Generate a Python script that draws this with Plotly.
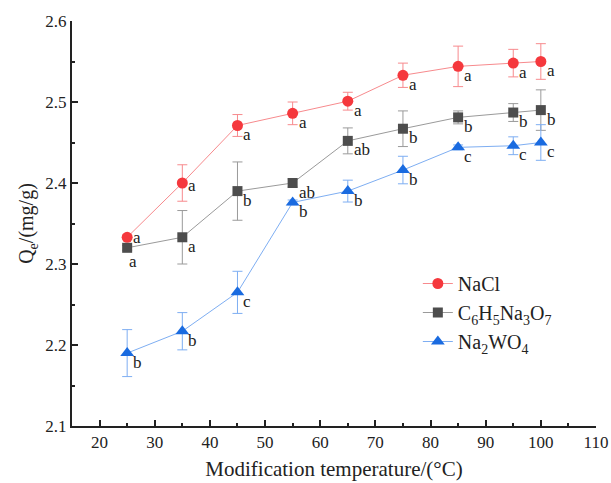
import plotly.graph_objects as go

temps = [25, 35, 45, 55, 65, 75, 85, 95, 100]

nacl = [2.333, 2.400, 2.471, 2.486, 2.501, 2.533, 2.544, 2.548, 2.550]
nacl_err = [0.003, 0.0225, 0.0135, 0.014, 0.011, 0.015, 0.025, 0.017, 0.022]
nacl_lab = ["a", "a", "a", "a", "a", "a", "a", "a", "a"]

citr = [2.320, 2.333, 2.390, 2.400, 2.452, 2.467, 2.481, 2.487, 2.490]
citr_err = [0.003, 0.033, 0.036, 0.005, 0.016, 0.022, 0.008, 0.011, 0.025]
citr_lab = ["a", "a", "b", "ab", "ab", "b", "b", "b", "b"]

tung = [2.190, 2.217, 2.265, 2.376, 2.390, 2.416, 2.444, 2.446, 2.450]
tung_err = [0.029, 0.023, 0.026, 0.003, 0.0135, 0.017, 0.003, 0.011, 0.022]
tung_lab = ["b", "b", "c", "b", "b", "b", "c", "c", "c"]

series = [
    ("NaCl", nacl, nacl_err, nacl_lab, "#F5383D", "#F78A8D", "circle", 11),
    ("C<sub>6</sub>H<sub>5</sub>Na<sub>3</sub>O<sub>7</sub>", citr, citr_err, citr_lab, "#4D4D4D", "#9A9A9A", "square", 10),
    ("Na<sub>2</sub>WO<sub>4</sub>", tung, tung_err, tung_lab, "#1A6BE0", "#7EAEF2", "triangle-up", 12),
]

# label placement tweaks (series index, point index) -> (xshift, yshift)
label_shift = {(0, 0): (4, 0), (0, 1): (4, -2), (1, 0): (0, -14)}

FONT = "Liberation Serif, Times New Roman, serif"

fig = go.Figure()
annotations = []
for si, (name, ys, errs, labs, mc, lc, sym, sz) in enumerate(series):
    fig.add_trace(go.Scatter(
        x=temps, y=ys, name=name, mode="lines+markers",
        line=dict(color=lc, width=1),
        marker=dict(color=mc, symbol=sym, size=sz),
        error_y=dict(type="data", array=errs, visible=True, color=lc, thickness=1, width=5),
    ))
    for pi, (xv, yv, t) in enumerate(zip(temps, ys, labs)):
        xs, ysft = label_shift.get((si, pi), (4, -9))
        annotations.append(dict(
            x=xv, y=yv, text=t, showarrow=False, xanchor="left", yanchor="middle",
            xshift=xs, yshift=ysft, font=dict(family=FONT, size=17, color="#222222"),
        ))

fig.update_layout(
    width=611, height=483,
    margin=dict(l=72, r=15, t=21, b=57),
    plot_bgcolor="white", paper_bgcolor="white",
    font=dict(family=FONT, size=17, color="#222222"),
    annotations=annotations,
    showlegend=True,
    legend=dict(x=0.66, y=0.40, xanchor="left", yanchor="top",
                bgcolor="rgba(0,0,0,0)", font=dict(family=FONT, size=20),
                tracegroupgap=0, itemwidth=30),
    xaxis=dict(
        range=[15, 110], tickvals=[20, 30, 40, 50, 60, 70, 80, 90, 100, 110],
        showgrid=False, zeroline=False, showline=True, linecolor="#222222", linewidth=2,
        ticks="inside", ticklen=6, tickwidth=1.5, tickcolor="#222222",
        minor=dict(ticks="inside", ticklen=3, dtick=5, tick0=15, tickcolor="#222222", tickwidth=1.5),
        tickfont=dict(family=FONT, size=17), automargin=False,
        title=dict(text="Modification temperature/(°C)", font=dict(family=FONT, size=21), standoff=10),
    ),
    yaxis=dict(
        range=[2.1, 2.6], tickvals=[2.1, 2.2, 2.3, 2.4, 2.5, 2.6], tickformat=".1f",
        showgrid=False, zeroline=False, showline=True, linecolor="#222222", linewidth=2,
        ticks="inside", ticklen=6, tickwidth=1.5, tickcolor="#222222",
        minor=dict(ticks="inside", ticklen=3, dtick=0.05, tick0=2.1, tickcolor="#222222", tickwidth=1.5),
        tickfont=dict(family=FONT, size=17), automargin=False,
        title=dict(text="Q<sub>e</sub>/(mg/g)", font=dict(family=FONT, size=20), standoff=6),
    ),
)

fig.write_html("out.html")
